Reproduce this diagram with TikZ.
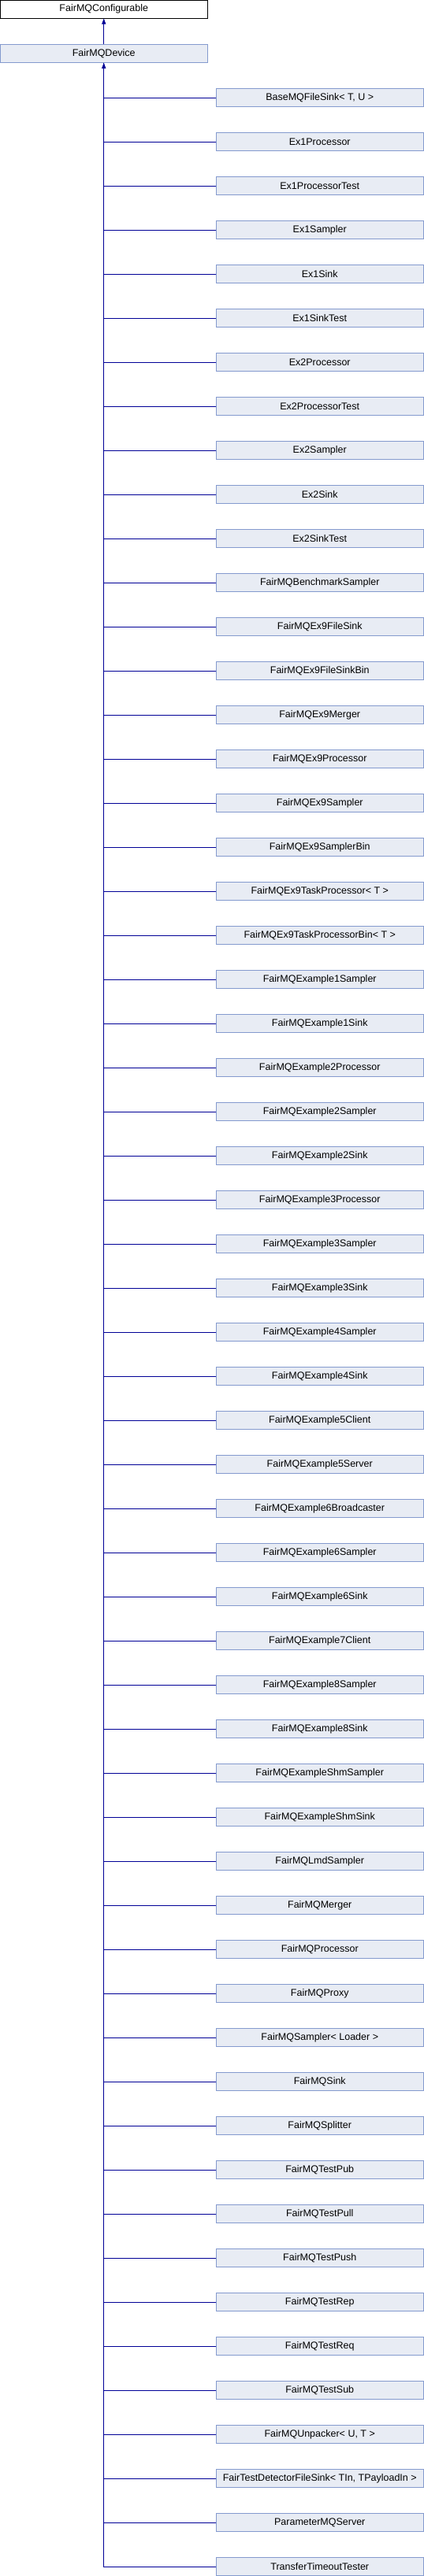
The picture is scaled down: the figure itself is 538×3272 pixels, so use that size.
\documentclass[tikz,border=0pt]{standalone}
\usepackage{fontspec}
\setmainfont{Liberation Sans}
\usetikzlibrary{arrows.meta}
\definecolor{boxfill}{RGB}{232,236,244}
\definecolor{boxdraw}{RGB}{132,154,206}
\definecolor{linkcol}{RGB}{0,0,150}
\tikzset{
  cls/.style={draw=boxdraw, fill=boxfill, line width=1pt, minimum width=262.5pt, minimum height=22.5pt, inner sep=0pt, font=\fontsize{12.5}{14}\selectfont},
  rootcls/.style={cls, draw=black, fill=white},
  link/.style={draw=linkcol, line width=1pt},
  inh/.style={link, -{Triangle[width=5pt,length=7pt]}}
}
\begin{document}
\begin{tikzpicture}[x=1pt,y=-1pt]
\useasboundingbox (0,0) rectangle (538,3272);
\node[rootcls] (conf) at (131.75,11.75) {FairMQConfigurable};
\node[cls] (dev) at (131.75,68) {FairMQDevice};
\draw[inh] (dev.north) -- (conf.south);
\foreach \t [count=\i] in {{BaseMQFileSink< T, U >},Ex1Processor,Ex1ProcessorTest,Ex1Sampler,Ex1Sink,Ex1SinkTest,Ex2Processor,Ex2ProcessorTest,Ex2Sampler,Ex2Sink,Ex2SinkTest,FairMQBenchmarkSampler,FairMQEx9FileSink,FairMQEx9FileSinkBin,FairMQEx9Merger,FairMQEx9Processor,FairMQEx9Sampler,FairMQEx9SamplerBin,{FairMQEx9TaskProcessor< T >},{FairMQEx9TaskProcessorBin< T >},FairMQExample1Sampler,FairMQExample1Sink,FairMQExample2Processor,FairMQExample2Sampler,FairMQExample2Sink,FairMQExample3Processor,FairMQExample3Sampler,FairMQExample3Sink,FairMQExample4Sampler,FairMQExample4Sink,FairMQExample5Client,FairMQExample5Server,FairMQExample6Broadcaster,FairMQExample6Sampler,FairMQExample6Sink,FairMQExample7Client,FairMQExample8Sampler,FairMQExample8Sink,FairMQExampleShmSampler,FairMQExampleShmSink,FairMQLmdSampler,FairMQMerger,FairMQProcessor,FairMQProxy,{FairMQSampler< Loader >},FairMQSink,FairMQSplitter,FairMQTestPub,FairMQTestPull,FairMQTestPush,FairMQTestRep,FairMQTestReq,FairMQTestSub,{FairMQUnpacker< U, T >},{FairTestDetectorFileSink< TIn, TPayloadIn >},ParameterMQServer,TransferTimeoutTester}{
  \node[cls] (c\i) at (405.75,{124+56*(\i-1)}) {\t};
}
\foreach \i in {1,...,56}{
  \draw[link] (c\i.west) -| (dev.south);
}
\draw[inh] (c57.west) -| (dev.south);
\end{tikzpicture}
\end{document}
